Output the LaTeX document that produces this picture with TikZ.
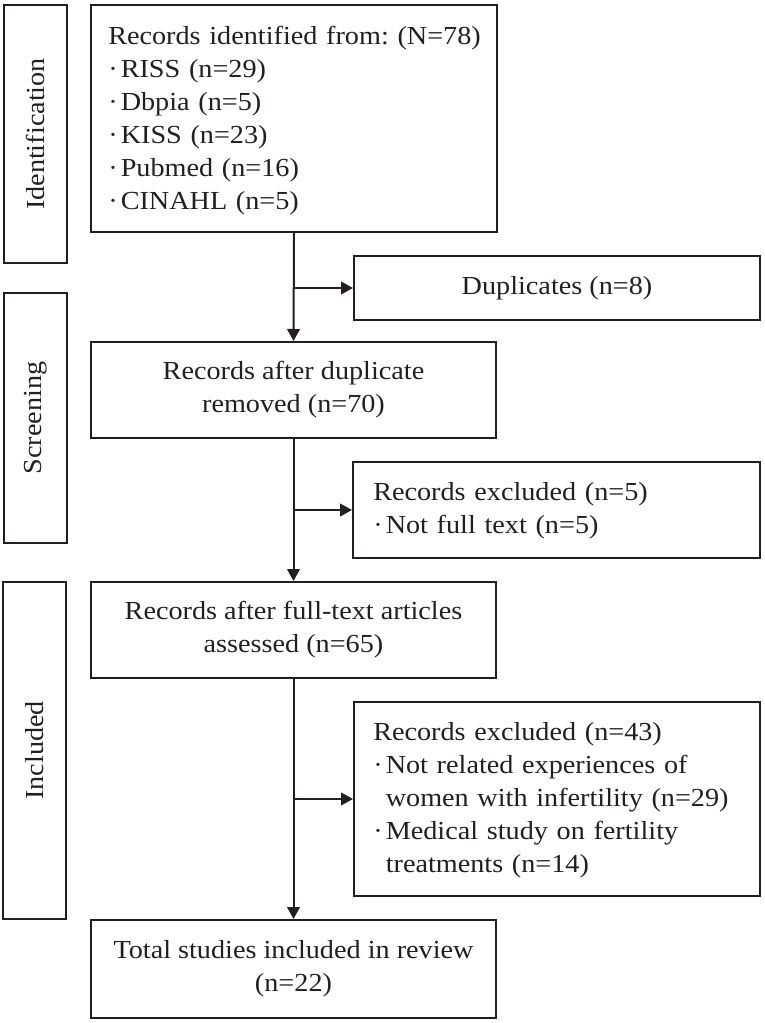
\documentclass[tikz,border=0pt]{standalone}
\usepackage{fontspec}
\setmainfont[FakeStretch=1.085]{Liberation Serif}
\usetikzlibrary{arrows.meta}
\definecolor{ink}{HTML}{231F20}
\newcommand\bul{·\hspace{0.12em}}
\newcommand\bulsp{\phantom{·}\hspace{0.12em}}
\frenchspacing
\tikzset{
  box/.style={draw=ink, line width=1.5pt, rectangle, inner xsep=0pt, inner ysep=0pt,
    font=\fontsize{19.5}{24.75}\selectfont, text=ink},
  txt/.style={inner sep=0pt, align=left, text width=#1*0.75pt,
    font=\fontsize{19.5}{24.75}\selectfont, text=ink},
  cbox/.style={box, align=center},
  side/.style={box, rotate=90},
  arr/.style={draw=ink, line width=1.5pt, -{Triangle[length=9pt,width=9.5pt]}},
}
\begin{document}
\begin{tikzpicture}[x=0.75pt,y=-0.75pt]
\useasboundingbox (0,0) rectangle (764,1023);
% side labels
\node[side, minimum width=258*0.75pt, minimum height=63*0.75pt] (sid) at (35.5,134) {Identification};
\node[side, minimum width=250*0.75pt, minimum height=63*0.75pt] (ssc) at (35.5,418) {Screening};
\node[side, minimum width=337*0.75pt, minimum height=63*0.75pt] (sin) at (34.5,750.5) {Included};
% main boxes
\node[box, minimum width=406*0.75pt, minimum height=227*0.75pt] (b1) at (294,118.5) {};
\node[txt=385, anchor=west] (t1) at (108,121) {Records identified from: (N=78)\\
\bul RISS (n=29)\\
\bul Dbpia (n=5)\\
\bul KISS (n=23)\\
\bul Pubmed (n=16)\\
\bul CINAHL (n=5)};
\node[cbox, minimum width=406*0.75pt, minimum height=64*0.75pt] (dup) at (557,288) {Duplicates (n=8)};
\node[cbox, minimum width=405*0.75pt, minimum height=96*0.75pt] (b2) at (293.5,390) {Records after duplicate\\removed (n=70)};
\node[box, minimum width=407*0.75pt, minimum height=96*0.75pt] (ex1) at (556.5,510) {};
\node[txt=380, anchor=west] (tx1) at (373,511) {Records excluded (n=5)\\
\bul Not full text (n=5)};
\node[cbox, minimum width=405*0.75pt, minimum height=96*0.75pt] (b3) at (293.5,630) {Records after full-text articles\\assessed (n=65)};
\node[box, minimum width=406*0.75pt, minimum height=194*0.75pt] (ex2) at (557,799) {};
\node[txt=380, anchor=west] (tx2) at (373,800) {Records excluded (n=43)\\
\bul Not related experiences of\\
\bulsp women with infertility (n=29)\\
\bul Medical study on fertility\\
\bulsp treatments (n=14)};
\node[cbox, minimum width=405*0.75pt, minimum height=98*0.75pt] (b4) at (293.5,969) {Total studies included in review\\(n=22)};
% connectors
\draw[arr] (b1.south) -- (b2.north);
\draw[arr] (b2.south) -- (b3.north);
\draw[arr] (b3.south) -- (b4.north);
\draw[arr] (b1.south |- dup.west) -- (dup.west);
\draw[arr] (b2.south |- ex1.west) -- (ex1.west);
\draw[arr] (b3.south |- ex2.west) -- (ex2.west);
\end{tikzpicture}
\end{document}
